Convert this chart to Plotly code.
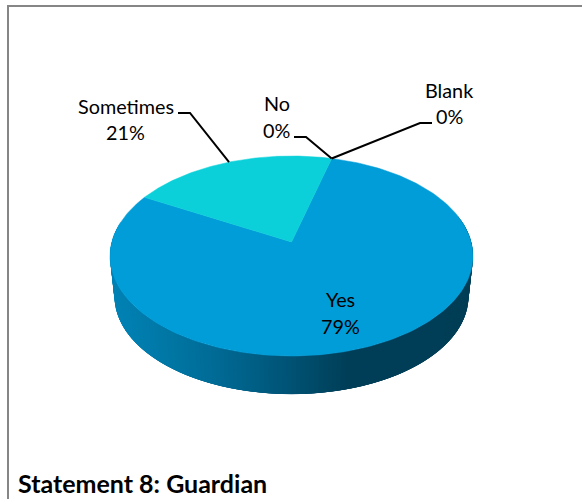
import numpy as np
import plotly.graph_objects as go

# Pie data, in clockwise drawing order
categories = ["Yes", "Sometimes", "No", "Blank"]
percentages = [79, 21, 0, 0]
slice_colors = ["#009DD9", "#0BD0D9", "#0F6FC6", "#7CCA62"]

# Side wall shading: horizontal position (px) against colour
wall_x = [110, 160, 210, 260, 300, 335, 473]
wall_rgb = [
    (0, 130, 180), (0, 118, 164), (0, 104, 146),
    (0, 88, 124), (0, 74, 104), (0, 62, 88), (0, 62, 86),
]

# Perspective model of the tilted disc, all in page pixels
CX, CY = 291.5, 242.0
SCALE_X, SCALE_Y, TILT = 179.7, 98.04, 0.14
DEPTH, FLOOR_SCALE = 41.0, 0.975
START_DEG = 14.7  # where the first category begins, clockwise from north


def project(theta_deg, floor=False):
    """Map clockwise pie angles to screen positions on the lid or the floor."""
    t = np.radians(np.asarray(theta_deg, dtype=float))
    u, v = np.sin(t), np.cos(t)
    w = 1 + TILT * v
    k = FLOOR_SCALE if floor else 1.0
    return (CX + k * SCALE_X * u / w,
            CY + (DEPTH if floor else 0.0) - k * SCALE_Y * v / w)


fig = go.Figure()

# Front wall, painted right to left; each quad reaches back under the previous
# ones so that no seams show between neighbours
edges = np.linspace(78, 282, 161)
step = edges[1] - edges[0]
for a, b in zip(edges[:-1], edges[1:]):
    span = [a - 3 * step, a, b]
    xt, yt = project(span)
    xb, yb = project(span[::-1], floor=True)
    xm = float(project((a + b) / 2)[0])
    rgb = [np.interp(xm, wall_x, [c[i] for c in wall_rgb]) for i in range(3)]
    col = "rgb({:.0f},{:.0f},{:.0f})".format(*rgb)
    fig.add_trace(go.Scatter(
        x=list(xt) + list(xb), y=list(yt) + list(yb),
        mode="lines", fill="toself", fillcolor=col,
        line=dict(color=col, width=0), hoverinfo="skip",
    ))

# Lid slices, sized by the percentages
total = sum(percentages)
angle = START_DEG
mid_angles = {}
for name, pct, col in zip(categories, percentages, slice_colors):
    sweep = 360.0 * pct / total
    mid_angles[name] = angle + sweep / 2
    if pct > 0:
        arc = np.linspace(angle, angle + sweep, 240)
        xs, ys = project(arc)
        fig.add_trace(go.Scatter(
            x=[CX] + list(xs) + [CX], y=[CY] + list(ys) + [CY],
            mode="lines", fill="toself", fillcolor=col,
            line=dict(color=col, width=0.5), hoverinfo="skip",
        ))
    angle += sweep

# Leader lines: label end, elbow, then the slice's rim midpoint
leaders = {
    "Sometimes": ((178, 113), (190, 113)),
    "No": ((294, 137), (306, 137)),
    "Blank": ((432, 123), (420, 123)),
}
for name, (tail, elbow) in leaders.items():
    rx, ry = project(mid_angles[name])
    fig.add_trace(go.Scatter(
        x=[tail[0], elbow[0], float(rx)], y=[tail[1], elbow[1], float(ry)],
        mode="lines", line=dict(color="black", width=2), hoverinfo="skip",
    ))

# Chart frame: only the left and top rules fall inside the page
fig.add_trace(go.Scatter(
    x=[8, 8, 582], y=[499, 6, 6], mode="lines",
    line=dict(color="#868686", width=2), hoverinfo="skip",
))

# Data labels, name above value
label_pos = {
    "Yes": (340, 299, 326),
    "No": (276.5, 103, 130),
    "Blank": (449, 90, 116),
    "Sometimes": (125.5, 106, 132),
}
annotations = []
for name, pct in zip(categories, percentages):
    lx, y1, y2 = label_pos[name]
    for txt, ly in ((name, y1), (f"{pct}%", y2)):
        annotations.append(dict(
            x=lx, y=ly, text=txt, showarrow=False, xanchor="center", yanchor="middle",
            font=dict(family="Lato", size=19.8, color="black"),
        ))
annotations.append(dict(
    x=16, y=483, text="<b>Statement 8: Guardian</b>", showarrow=False,
    xanchor="left", yanchor="middle",
    font=dict(family="Lato", size=25, color="black"),
))

fig.update_layout(
    width=582, height=499, margin=dict(l=0, r=0, t=0, b=0),
    paper_bgcolor="white", plot_bgcolor="white", showlegend=False,
    xaxis=dict(range=[0, 582], visible=False, fixedrange=True),
    yaxis=dict(range=[499, 0], visible=False, fixedrange=True),
    annotations=annotations,
)

fig.write_html("out.html", config={"displayModeBar": False})
